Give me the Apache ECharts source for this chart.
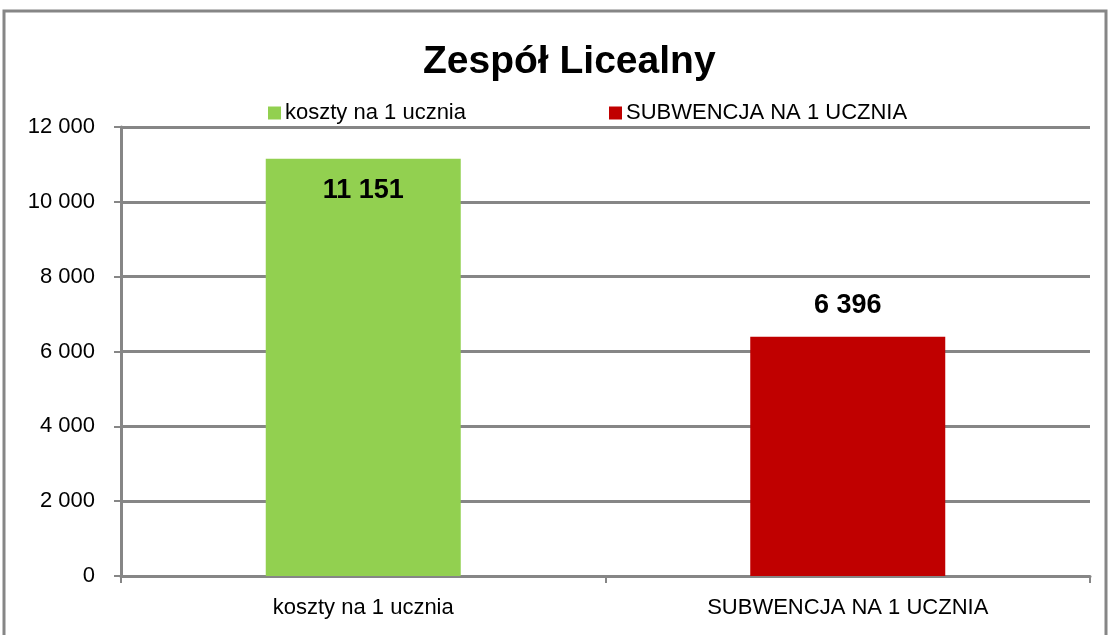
<!DOCTYPE html>
<html>
<head>
<meta charset="utf-8">
<script src="https://cdn.jsdelivr.net/npm/echarts@6/dist/echarts.min.js"></script>
<style>
  html, body { margin: 0; padding: 0; background: #fff; }
  #chart { width: 1109px; height: 635px; }
</style>
</head>
<body>
<div id="chart"></div>
<script>
var titleText = 'Zespół Licealny'
var categories = ['koszty na 1 ucznia', 'SUBWENCJA NA 1 UCZNIA']
var kosztyValues = [11151, '-']
var subwencjaValues = ['-', 6396]
var yTicks = { min: 0, max: 12000, interval: 2000 }

var font = '"Liberation Sans", Arial, sans-serif'
var gray = '#868686'

function fmt(v) {
  return String(v).replace(/\B(?=(\d{3})+(?!\d))/g, ' ')
}

var legendBase = {
  top: 97,
  itemWidth: 13,
  itemHeight: 13,
  icon: 'rect',
  textStyle: { fontFamily: font, fontSize: 22, color: '#000', padding: [0, 0, 0, -1] }
}

var myChart = echarts.init(document.getElementById('chart'))
var option = {
  backgroundColor: '#fff',
  animation: false,
  title: {
    text: titleText,
    left: 418,
    top: 38,
    textStyle: { fontFamily: font, fontSize: 39, fontWeight: 'bold', color: '#000' }
  },
  legend: [
    Object.assign({}, legendBase, { left: 263, data: ['koszty na 1 ucznia'] }),
    Object.assign({}, legendBase, { left: 604, data: ['SUBWENCJA NA 1 UCZNIA'] })
  ],
  grid: { left: 121, right: 19, top: 127, bottom: 59 },
  xAxis: {
    type: 'category',
    data: categories,
    axisLine: { lineStyle: { color: gray, width: 3 } },
    axisTick: { show: true, length: 7, lineStyle: { color: gray, width: 2 } },
    axisLabel: { fontFamily: font, fontSize: 22, color: '#000', margin: 21 }
  },
  yAxis: {
    type: 'value',
    min: yTicks.min,
    max: yTicks.max,
    interval: yTicks.interval,
    axisLine: { show: true, lineStyle: { color: gray, width: 3 } },
    axisTick: { show: true, length: 7, lineStyle: { color: gray, width: 2 } },
    splitLine: { lineStyle: { color: gray, width: 3 } },
    axisLabel: {
      fontFamily: font, fontSize: 22, color: '#000', margin: 26,
      formatter: function(v) { return fmt(v) }
    }
  },
  series: [
    {
      name: 'koszty na 1 ucznia',
      type: 'bar',
      stack: 'all',
      barWidth: 195,
      itemStyle: { color: '#92D050' },
      label: {
        show: true, position: 'insideTop', distance: 18,
        fontFamily: font, fontSize: 27, fontWeight: 'bold', color: '#000',
        formatter: function(p) { return fmt(p.value) }
      },
      data: kosztyValues
    },
    {
      name: 'SUBWENCJA NA 1 UCZNIA',
      type: 'bar',
      stack: 'all',
      barWidth: 201,
      itemStyle: { color: '#C00000' },
      label: {
        show: true, position: 'top', distance: 18,
        fontFamily: font, fontSize: 27, fontWeight: 'bold', color: '#000',
        formatter: function(p) { return fmt(p.value) }
      },
      data: subwencjaValues
    }
  ],
  graphic: [
    {
      type: 'rect',
      shape: { x: 4, y: 11, width: 1102, height: 640 },
      style: { fill: 'none', stroke: gray, lineWidth: 3 },
      silent: true
    }
  ]
}
myChart.setOption(option)
window.onresize = function() {
  myChart.resize()
}
</script>
</body>
</html>
